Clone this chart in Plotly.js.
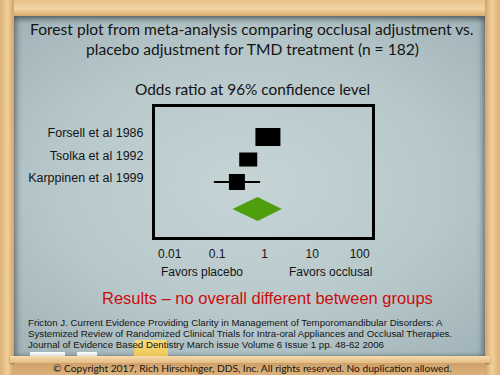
<!DOCTYPE html>
<html><head><meta charset="utf-8">
<script src="https://cdn.plot.ly/plotly-3.0.1.min.js"></script>
<style>
html,body{margin:0;padding:0;width:500px;height:375px;overflow:hidden;}
#stage{position:relative;width:500px;height:375px;background:linear-gradient(90deg,#d9ad72,#eac58f 50%,#d9ad72);}
.abs{position:absolute;}
#board{left:14px;top:16px;width:471px;height:340px;background:radial-gradient(ellipse 75% 70% at 50% 50%, #c6d4d6 0%, #b7c8cb 55%, #9fb2b7 100%);box-shadow: inset 0 4px 5px rgba(0,0,0,0.3), inset 4px 0 5px rgba(0,0,0,0.2), inset -4px 0 5px rgba(0,0,0,0.2);}
#topbar{left:0;top:0;width:500px;height:16px;background:linear-gradient(180deg,#e6c088,#f3d6a4 55%,#d7aa6e);}
#leftbar{left:0;top:0;width:14px;height:375px;background:linear-gradient(90deg,#dcb175,#f1cf9b 55%,#d2a468);}
#rightbar{left:485px;top:0;width:15px;height:375px;background:linear-gradient(90deg,#d2a468,#f1cf9b 45%,#dcb175);}
#ledge{left:10px;top:356px;width:480px;height:7px;background:linear-gradient(180deg,#f5dcae,#e4bb82);box-shadow:0 1px 2px rgba(0,0,0,0.35);}
#bottom{left:14px;top:363px;width:471px;height:12px;background:linear-gradient(180deg,#cfa06a,#dcb27a);}
.chalk{background:linear-gradient(180deg,#ffffff,#dcdcdc);border-radius:1px;}
#sponge{left:134px;top:340px;width:34px;height:16px;background:linear-gradient(180deg,#f7dc7c,#ecc859);border-radius:3px 3px 1px 1px;}
#plot{left:0;top:0;width:500px;height:375px;}
</style></head>
<body>
<div id="stage">
  <div id="board" class="abs"></div>
  <div class="abs chalk" style="left:30px;top:352px;width:35px;height:5px;"></div>
  <div class="abs chalk" style="left:77px;top:352px;width:20px;height:5px;"></div>
  <div id="sponge" class="abs"></div>
  <div id="topbar" class="abs"></div>
  <div id="leftbar" class="abs"></div>
  <div id="rightbar" class="abs"></div>
  <div id="ledge" class="abs"></div>
  <div id="bottom" class="abs"></div>
  <div id="plot" class="abs"></div>
</div>
<script>
// ---- data ----
const studies   = ["Forsell et al 1986", "Tsolka et al 1992", "Karppinen et al 1999"];
const oddsRatio = [1.17, 0.45, 0.26];
const ciLow     = [null, null, 0.085];
const ciHigh    = [null, null, 0.80];
const studyRow  = [1, 2, 3];
const pooledOR   = 0.71;
const pooledLow  = 0.21;
const pooledHigh = 2.3;
const pooledRow  = 4.2;
const tickValues = [0.01, 0.1, 1, 10, 100];
const tickLabels = ["0.01", "0.1", "1", "10", "100"];

// ---- style ----
const boxPx = [[25,18],[18,14],[16,16]];
const diamondHalf = 0.53;
const W=500, H=375, M={l:155, r:128, t:107, b:138};
const xRange = [-2.31, 2.26], yRange = [5.444, -0.333];
const pw = W-M.l-M.r, ph = H-M.t-M.b;
const pxPerDecade = pw/(xRange[1]-xRange[0]);
const pxPerRow = ph/Math.abs(yRange[0]-yRange[1]);
const px = x => (x-M.l)/pw;
const py = y => 1-(y-M.t)/ph;
const arial = "Liberation Sans, Arial, sans-serif";
const cal = "Lato, Open Sans, sans-serif";

// CI whiskers
const cx=[], cy=[];
studies.forEach((s,i)=>{ if(ciLow[i]!==null){ cx.push(ciLow[i],ciHigh[i],null); cy.push(studyRow[i],studyRow[i],null);} });

const traces = [
  {type:'scatter', mode:'lines', x:cx, y:cy, line:{color:'#000', width:2}, hoverinfo:'skip', showlegend:false},
  {type:'scatter', mode:'lines', fill:'toself', fillcolor:'#4e9f0e', line:{width:0, color:'#4e9f0e'},
   x:[pooledLow, pooledOR, pooledHigh, pooledOR, pooledLow],
   y:[pooledRow, pooledRow-diamondHalf, pooledRow, pooledRow+diamondHalf, pooledRow],
   hoverinfo:'skip', showlegend:false}
];
studies.forEach((s,i)=>{
  const f = Math.pow(10, boxPx[i][0]/2/pxPerDecade);
  const h = boxPx[i][1]/2/pxPerRow;
  const o = oddsRatio[i], r = studyRow[i];
  traces.push({type:'scatter', mode:'lines', fill:'toself', fillcolor:'#000', line:{width:0, color:'#000'},
    x:[o/f, o*f, o*f, o/f, o/f], y:[r-h, r-h, r+h, r+h, r-h], name:s, hoverinfo:'skip', showlegend:false});
});

function ann(text, x, y, size, family, color, xanchor){
  return {text:text, xref:'paper', yref:'paper', x:px(x), y:py(y), xanchor:xanchor||'center', yanchor:'middle',
    showarrow:false, font:{size:size, family:family, color:color||'#141414'}};
}
const annotations = [
  ann("Forest plot from meta-analysis comparing occlusal adjustment vs.", 252, 29, 15.6, cal),
  ann("placebo adjustment for TMD treatment (n = 182)", 252, 49, 15.6, cal),
  ann("Odds ratio at 96% confidence level", 252, 89, 15.4, cal),
  ann("Favors placebo", 201.5, 272, 12, arial),
  ann("Favors occlusal", 330, 272, 12, arial),
  ann("Results \u2013 no overall different between groups", 267.5, 298, 16.5, arial, '#cc0c0c'),
  ann("Fricton J. Current Evidence Providing Clarity in Management of Temporomandibular Disorders: A", 26, 322, 9.7, arial, '#141414', 'left'),
  ann("Systemized Review of Randomized Clinical Trials for Intra-oral Appliances and Occlusal Therapies.", 26, 333, 9.7, arial, '#141414', 'left'),
  ann("Journal of Evidence Based Dentistry March issue Volume 6 Issue 1 pp. 48-62 2006", 26, 344, 9.7, arial, '#141414', 'left'),
  ann("\u00a9 Copyright 2017, Rich Hirschinger, DDS, Inc. All rights reserved. No duplication allowed.", 252, 368, 10.2, cal)
];

const layout = {
  width:W, height:H, margin:M,
  paper_bgcolor:'rgba(0,0,0,0)', plot_bgcolor:'rgba(0,0,0,0)',
  showlegend:false,
  xaxis:{type:'log', range:xRange, tickmode:'array', tickvals:tickValues, ticktext:tickLabels,
    showgrid:false, zeroline:false, showline:true, mirror:true, linewidth:3, linecolor:'#000',
    ticks:'', ticklabelstandoff:4, tickfont:{family:arial, size:12, color:'#141414'}, fixedrange:true},
  yaxis:{range:yRange, tickmode:'array', tickvals:studyRow, ticktext:studies,
    showgrid:false, zeroline:false, showline:true, mirror:true, linewidth:3, linecolor:'#000',
    ticks:'', ticklabelshift:4, ticklabelstandoff:6, tickfont:{family:arial, size:12.5, color:'#141414'}, fixedrange:true},
  annotations:annotations
};
Plotly.newPlot('plot', traces, layout, {displayModeBar:false, staticPlot:true});
</script>
</body></html>
